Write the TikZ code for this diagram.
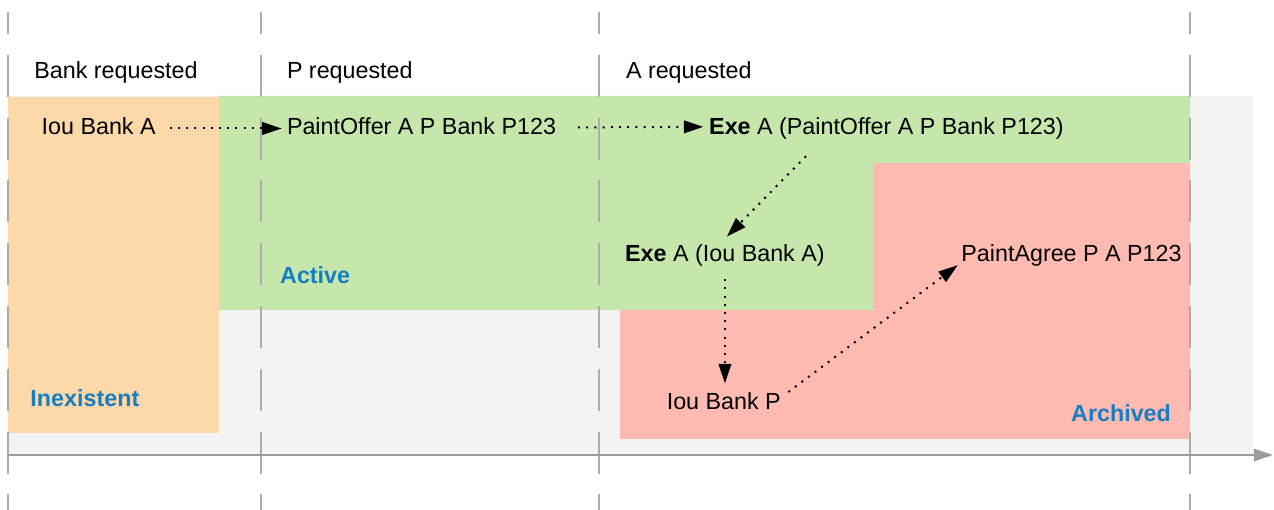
\documentclass[tikz,border=0pt]{standalone}
\usepackage{fontspec}
\setmainfont{Liberation Sans}
\usetikzlibrary{arrows.meta}
\definecolor{bgGray}{RGB}{243,243,243}
\definecolor{orangeFill}{RGB}{253,216,168}
\definecolor{greenFill}{RGB}{198,231,171}
\definecolor{redFill}{RGB}{255,186,177}
\definecolor{guideGray}{RGB}{172,172,172}
\definecolor{axisGray}{RGB}{155,155,155}
\definecolor{stateBlue}{RGB}{23,126,193}
\begin{document}
\begin{tikzpicture}[x=1pt,y=-1pt,
  txt/.style={font=\fontsize{23.3}{28}\selectfont, inner sep=0pt, anchor=base west, text height=15pt, text depth=0pt},
  statelbl/.style={txt, font=\fontsize{23.3}{28}\selectfont\bfseries, text=stateBlue},
  flow/.style={line width=2pt, dash pattern=on 2pt off 6.2pt, -{Triangle[length=19.5pt,width=12.6pt]}},
  guide/.style={draw=guideGray, line width=2pt, dash pattern=on 42pt off 20.8pt, dash phase=20pt}
]
\useasboundingbox[fill=white] (0,0) rectangle (1274,510);
% background areas
\fill[bgGray] (8,96) rectangle (1253,454);
\fill[orangeFill] (8,97.5) rectangle (219,433);
\fill[redFill] (620,163) rectangle (1190,439);
\fill[greenFill] (219,96) -- (1190,96) -- (1190,163) -- (873,163) -- (873,310) -- (219,310) -- cycle;
% time guides
\foreach \gx in {8,261,599,1190} \draw[guide] (\gx,12) -- (\gx,512);
% time axis
\draw[axisGray, line width=2.6pt, -{Triangle[length=19pt,width=12pt]}] (8,455) -- (1273,455);
% headers
\node[txt] (hBank) at (34.2,78.3) {Bank requested};
\node[txt] (hP) at (286.8,78.3) {P requested};
\node[txt] (hA) at (625.8,78.3) {A requested};
% contracts
\node[txt] (iouA) at (41.5,135) {Iou Bank A};
\node[txt] (offer) at (286.8,135) {PaintOffer A P Bank P123};
\node[txt] (exeOffer) at (709,134.3) {\textbf{Exe} A (PaintOffer A P Bank P123)};
\node[txt] (exeIou) at (625,261.7) {\textbf{Exe} A (Iou Bank A)};
\node[txt] (agree) at (961.2,261.7) {PaintAgree P A P123};
\node[txt] (iouP) at (666.6,409) {Iou Bank P};
% states
\node[statelbl] (active) at (280,283.3) {Active};
\node[statelbl] (inexist) at (30.3,406.7) {Inexistent};
\node[statelbl] (archived) at (1071,421) {Archived};
% flows
\draw[flow, shorten <=14pt, shorten >=5.1pt] ([yshift=-1pt]iouA.east) -- ([yshift=-1pt]offer.west);
\draw[flow, shorten <=21.8pt, shorten >=5.7pt] (offer.east) -- (exeOffer.west);
\draw[flow] ([xshift=97pt,yshift=-21.7pt]exeOffer.south west) -- ([xshift=2pt,yshift=10pt]exeIou.north);
\draw[flow, shorten <=17.3pt, shorten >=10.5pt] (exeIou.south) -- (exeIou.south |- iouP.north);
\draw[flow] ([xshift=7.4pt,yshift=9.5pt]iouP.east) -- ([xshift=-3.5pt,yshift=-3.3pt]agree.south west);
\end{tikzpicture}
\end{document}
